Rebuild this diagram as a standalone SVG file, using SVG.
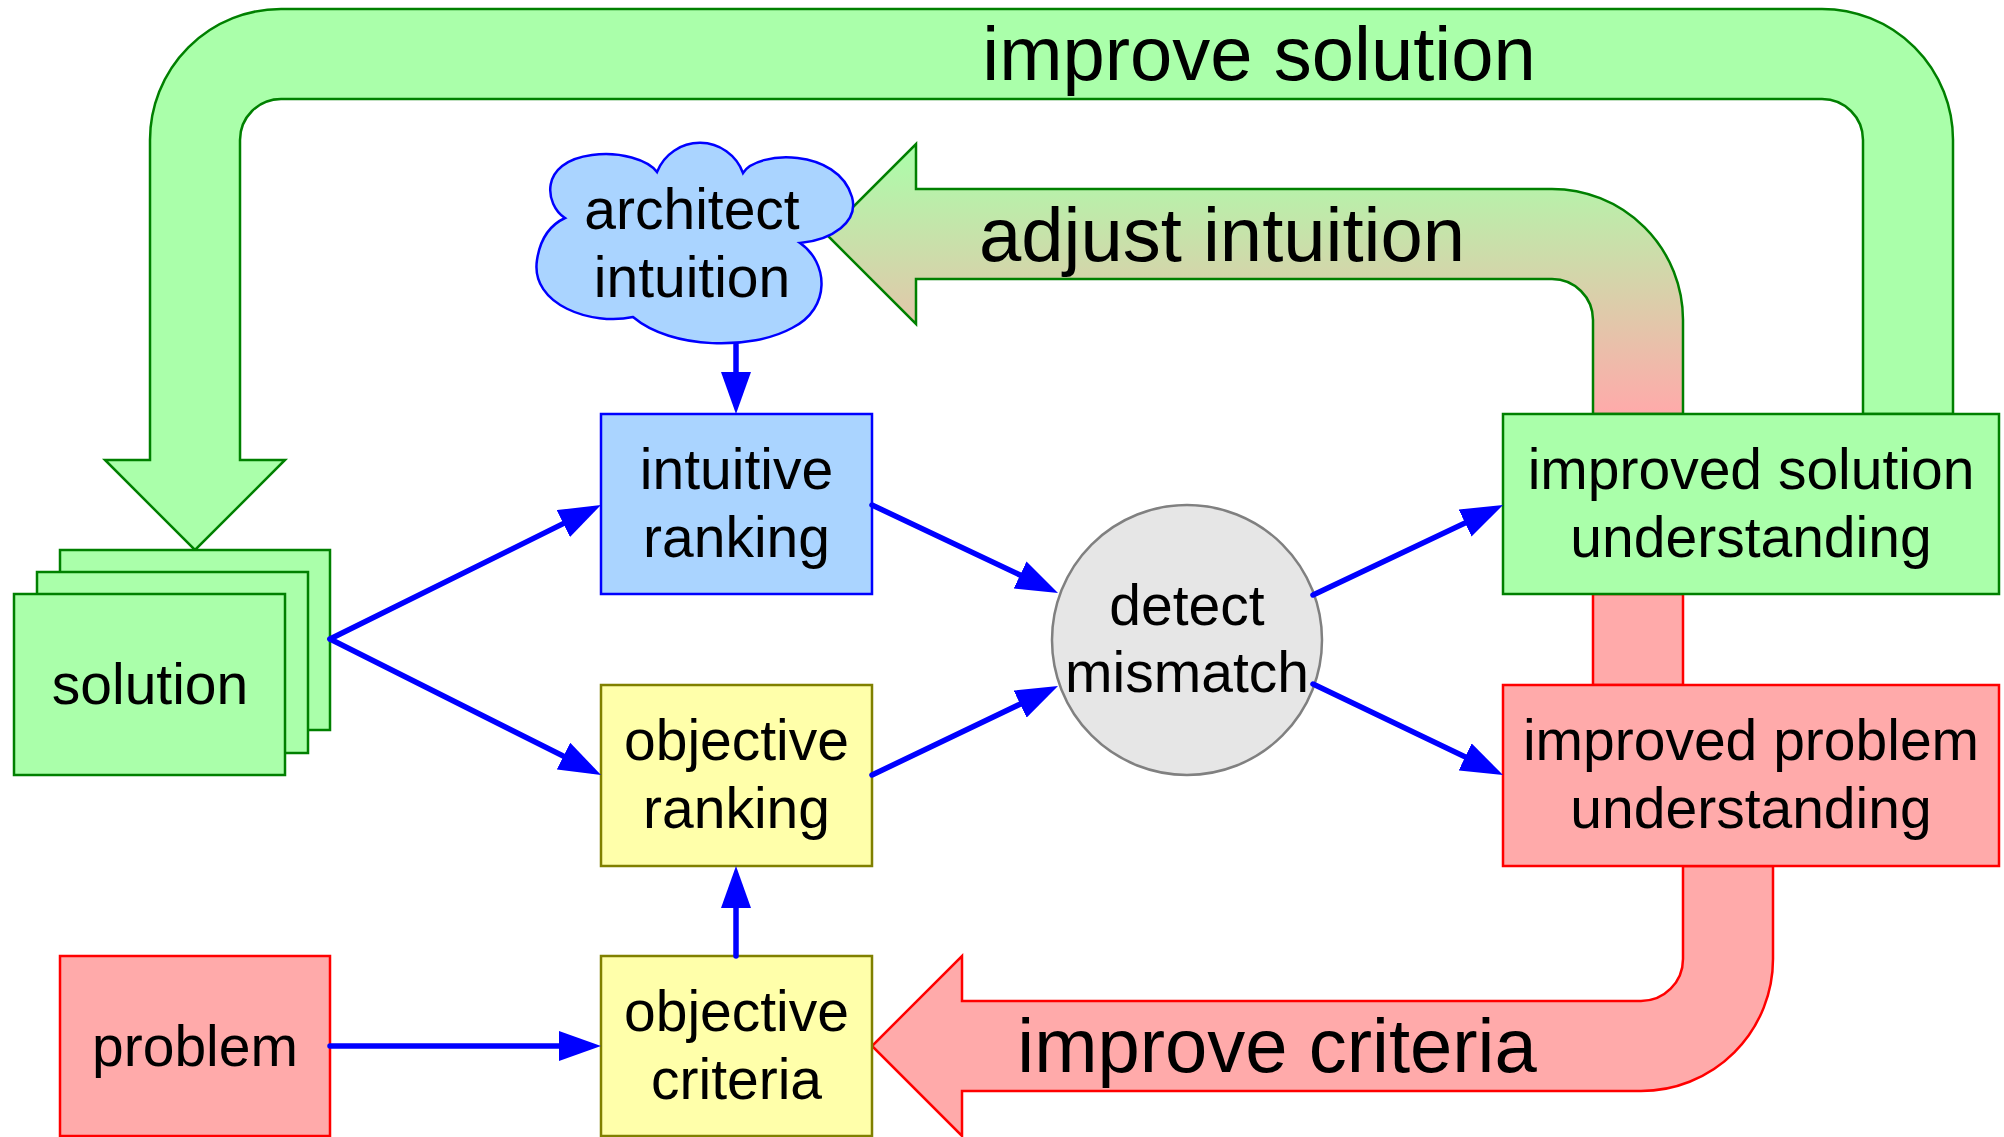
<svg xmlns="http://www.w3.org/2000/svg" width="2004" height="1137" viewBox="0 0 2004 1137">
<defs>
<linearGradient id="gAdj" gradientUnits="userSpaceOnUse" x1="0" y1="144" x2="0" y2="414">
<stop offset="0" stop-color="#aaffaa"/>
<stop offset="1" stop-color="#ffaaaa"/>
</linearGradient>
<marker id="ah" viewBox="0 0 42 30" refX="32" refY="15" markerWidth="42" markerHeight="30" markerUnits="userSpaceOnUse" orient="auto">
<path d="M0,0 L42,15 L0,30 Z" fill="#0000ff"/>
</marker>
</defs>
<style>
text{font-family:"Liberation Sans",Arial,sans-serif;fill:#000;text-anchor:middle}
.lbl{font-size:57px}
.big{font-size:76px}
.g{fill:#aaffaa;stroke:#008000;stroke-width:2.5}
.b{fill:#aad4ff;stroke:#0000ff;stroke-width:2.5}
.y{fill:#ffffaa;stroke:#808000;stroke-width:2.5}
.r{fill:#ffaaaa;stroke:#ff0000;stroke-width:2.5}
.c{fill:#e6e6e6;stroke:#808080;stroke-width:2.5}
.ln{stroke:#0000ff;stroke-width:5.5;fill:none;stroke-linecap:round;marker-end:url(#ah)}
</style>
<rect width="2004" height="1137" fill="#ffffff"/>

<g id="arrow-improve-solution">
<path class="g" d="M1953,414 L1953,140 A131,131 0 0 0 1822,9 L281,9 A131,131 0 0 0 150,140 L150,460 L105,460 L195,550 L285,460 L240,460 L240,140 A41,41 0 0 1 281,99 L1822,99 A41,41 0 0 1 1863,140 L1863,414 Z"/>
<text class="big" x="1259" y="80">improve solution</text>
</g>

<g id="arrow-adjust-intuition">
<path fill="url(#gAdj)" stroke="#008000" stroke-width="2.5" d="M1683,414 L1683,320 A131,131 0 0 0 1552,189 L916,189 L916,144 L826,234 L916,324 L916,279 L1552,279 A41,41 0 0 1 1593,320 L1593,414 Z"/>
<text class="big" x="1222" y="261">adjust intuition</text>
</g>

<g id="arrow-improve-criteria">
<rect class="r" x="1593" y="594" width="90" height="91"/>
<path class="r" d="M1683,866 L1683,959 A42,42 0 0 1 1641,1001 L962,1001 L962,956 L872,1046 L962,1136 L962,1091 L1641,1091 A132,132 0 0 0 1773,959 L1773,866 Z"/>
<text class="big" x="1277" y="1072">improve criteria</text>
</g>

<g id="solution">
<rect class="g" x="60" y="550" width="270" height="180"/>
<rect class="g" x="37" y="572" width="271" height="181"/>
<rect class="g" x="14" y="594" width="271" height="181"/>
<text class="lbl" x="150" y="704">solution</text>
</g>

<g id="architect-intuition">
<path class="b" d="M565,218 C545,205 538,162 592,155 C620,151 648,160 657,172 A46,46 0 0 1 743,173 C757,150 838,148 852,197 C859,222 832,240 800,243 C828,262 832,308 792,328 C752,350 672,350 633,317 C592,326 530,305 537,260 C540,240 550,225 565,218 Z"/>
<text class="lbl" x="692" y="229">architect</text>
<text class="lbl" x="692" y="297">intuition</text>
</g>

<g id="intuitive-ranking">
<rect class="b" x="601" y="414" width="271" height="180"/>
<text class="lbl" x="736.5" y="489">intuitive</text>
<text class="lbl" x="736.5" y="557">ranking</text>
</g>

<g id="objective-ranking">
<rect class="y" x="601" y="685" width="271" height="181"/>
<text class="lbl" x="736.5" y="760">objective</text>
<text class="lbl" x="736.5" y="828">ranking</text>
</g>

<g id="objective-criteria">
<rect class="y" x="601" y="956" width="271" height="180"/>
<text class="lbl" x="736.5" y="1031">objective</text>
<text class="lbl" x="736.5" y="1099">criteria</text>
</g>

<g id="problem">
<rect class="r" x="60" y="956" width="270" height="180"/>
<text class="lbl" x="195" y="1066">problem</text>
</g>

<g id="detect-mismatch">
<circle class="c" cx="1187" cy="640" r="135"/>
<text class="lbl" x="1187" y="625">detect</text>
<text class="lbl" x="1187" y="692">mismatch</text>
</g>

<g id="improved-solution-understanding">
<rect class="g" x="1503" y="414" width="496" height="180"/>
<text class="lbl" x="1751" y="489">improved solution</text>
<text class="lbl" x="1751" y="557">understanding</text>
</g>

<g id="improved-problem-understanding">
<rect class="r" x="1503" y="685" width="496" height="181"/>
<text class="lbl" x="1751" y="760">improved problem</text>
<text class="lbl" x="1751" y="828">understanding</text>
</g>

<g id="connectors">
<line class="ln" x1="330" y1="639" x2="592" y2="509.4"/>
<line class="ln" x1="330" y1="639" x2="592.1" y2="770.5"/>
<line class="ln" x1="872" y1="505" x2="1049" y2="588.7"/>
<line class="ln" x1="872" y1="775" x2="1049" y2="690.3"/>
<line class="ln" x1="1313" y1="595" x2="1494" y2="509.3"/>
<line class="ln" x1="1313" y1="684" x2="1494" y2="770.7"/>
<line class="ln" x1="330" y1="1046" x2="591" y2="1046"/>
<line class="ln" x1="736" y1="956" x2="736" y2="876"/>
<line class="ln" x1="736" y1="345" x2="736" y2="404"/>
</g>
</svg>
